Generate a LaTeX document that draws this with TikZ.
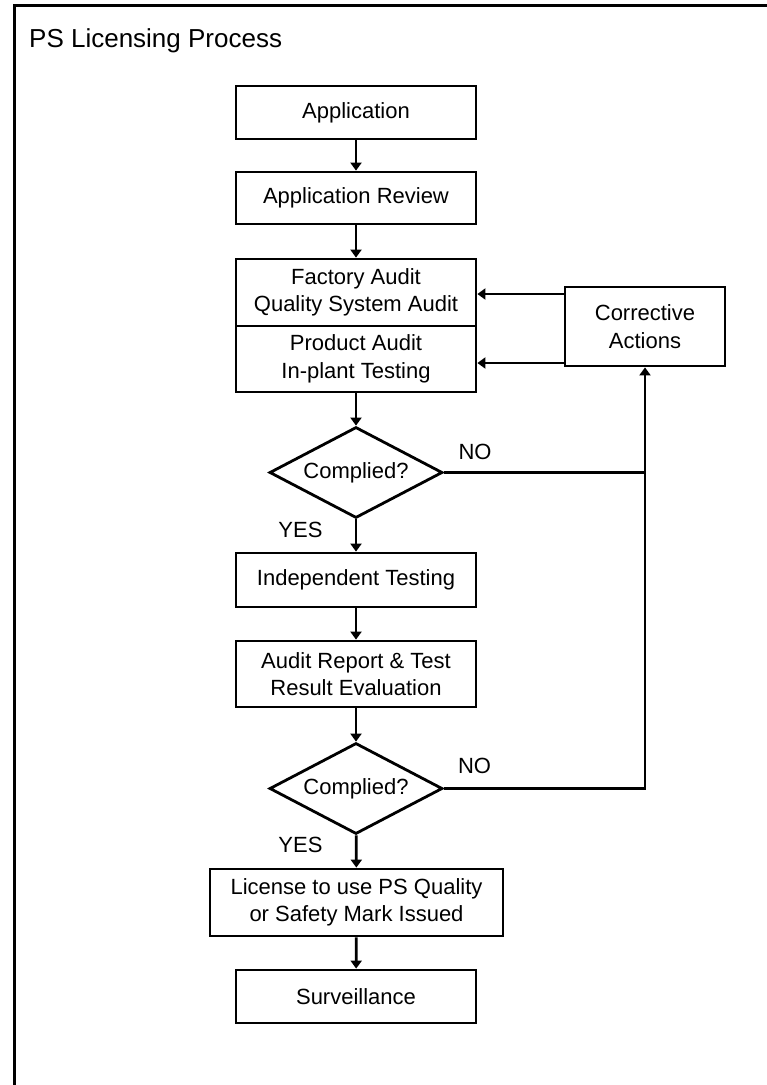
\documentclass[tikz,border=0pt]{standalone}
\usepackage{fontspec}
\setmainfont{Liberation Sans}
\usetikzlibrary{shapes.geometric,arrows.meta}
\begin{document}
\begin{tikzpicture}[x=1pt,y=-1pt,
  every node/.style={font=\fontsize{22}{27.5}\selectfont, text=black},
  stepbox/.style={draw, line width=2.8pt, minimum width=240pt, align=center, inner sep=0pt},
  decide/.style={draw, diamond, aspect=1.9, line width=2.8pt, minimum width=173pt, minimum height=91pt, inner sep=0pt},
  arr/.style={line width=2.8pt, -{Triangle[width=11pt,length=8pt]}},
  plain/.style={line width=2.8pt},
  lbl/.style={anchor=base, inner sep=0pt}]
\useasboundingbox (0,0) rectangle (767,1085);
\draw[line width=3pt] (14.5,1085) -- (14.5,5.5) -- (767,5.5);
\node[anchor=base west, inner sep=0pt, font=\fontsize{26}{30}\selectfont] (title) at (29,47) {PS Licensing Process};

\node[stepbox, minimum height=53pt] (app) at (356,112.5) {Application};
\node[stepbox, minimum height=52pt] (rev) at (356,198) {Application Review};
\node[stepbox, minimum height=67pt] (fac) at (356,292.5) {Factory Audit\\Quality System Audit};
\node[stepbox, minimum height=66pt] (prod) at (356,359) {Product Audit\\In-plant Testing};
\node[stepbox, minimum width=160pt, minimum height=79pt] (corr) at (645,326.5) {Corrective\\Actions};
\node[decide] (d1) at (356,472.5) {Complied?};
\node[stepbox, minimum height=54pt] (ind) at (356,580) {Independent Testing};
\node[stepbox, minimum height=66pt] (aud) at (356,674) {Audit Report \& Test\\Result Evaluation};
\node[decide] (d2) at (356,788.5) {Complied?};
\node[stepbox, minimum width=293pt, minimum height=67pt] (lic) at (356.5,902.5) {License to use PS Quality\\or Safety Mark Issued};
\node[stepbox, minimum height=53pt] (surv) at (356,996.5) {Surveillance};

\node[lbl] (no1) at (475,459) {NO};
\node[lbl] (yes1) at (300.5,537) {YES};
\node[lbl] (no2) at (474.5,773) {NO};
\node[lbl] (yes2) at (300.5,852) {YES};

\draw[arr] (app) -- (rev);
\draw[arr] (rev) -- (fac);
\draw[arr] (prod) -- (d1);
\draw[arr] (d1) -- (ind);
\draw[arr] (ind) -- (aud);
\draw[arr] (aud) -- (d2);
\draw[arr] (d2) -- (lic);
\draw[arr] (lic) -- (surv);

\draw[arr] ([yshift=32.5pt]corr.west) coordinate (c1) -- (c1 -| fac.east);
\draw[arr] ([yshift=-36.5pt]corr.west) coordinate (c2) -- (c2 -| prod.east);
\draw[plain] (d1.east) -- (d1.east -| corr.south);
\draw[arr] (d2.east) -- (d2.east -| corr.south) -- (corr.south);
\end{tikzpicture}
\end{document}
